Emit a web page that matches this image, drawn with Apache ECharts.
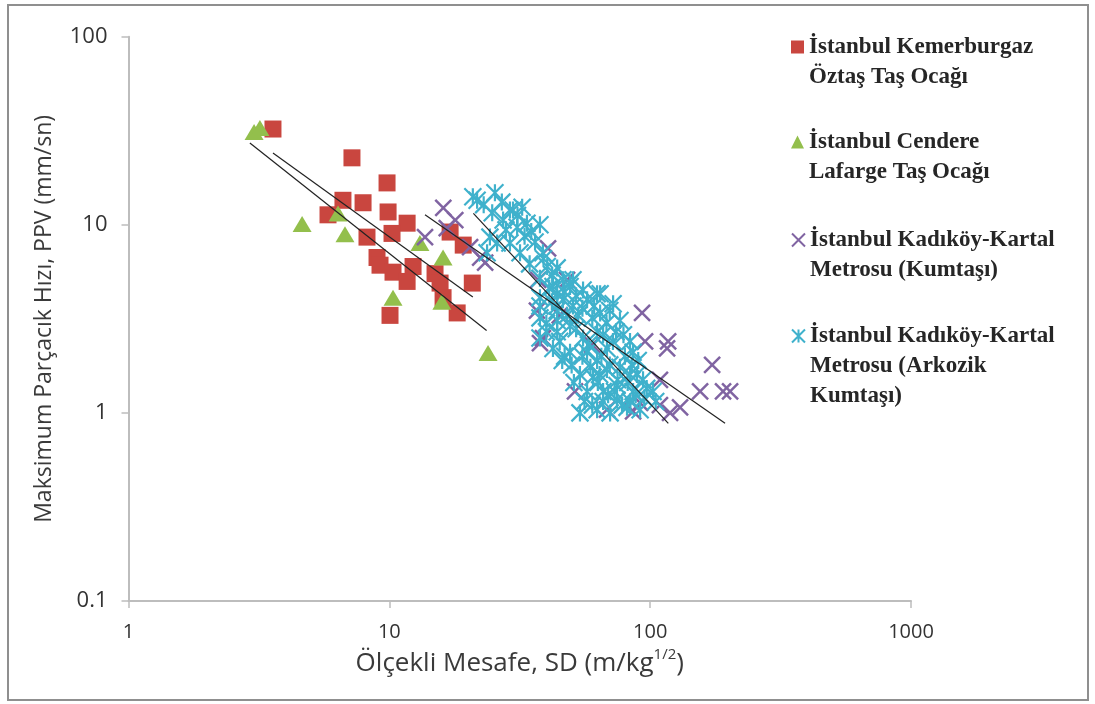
<!DOCTYPE html>
<html>
<head>
<meta charset="utf-8">
<script src="https://cdn.jsdelivr.net/npm/echarts@6/dist/echarts.min.js"></script>
<style>
  html, body { margin: 0; padding: 0; background: #ffffff; }
  #chart { width: 1095px; height: 704px; }
</style>
</head>
<body>
<div id="chart"></div>
<script>
// Scaled distance SD (m/kg^1/2) vs. peak particle velocity PPV (mm/sn), per site
const seriesNames = [
  'İstanbul Kemerburgaz\nÖztaş Taş Ocağı',
  'İstanbul Cendere\nLafarge Taş Ocağı',
  'İstanbul Kadıköy-Kartal\nMetrosu (Kumtaşı)',
  'İstanbul Kadıköy-Kartal\nMetrosu (Arkozik\nKumtaşı)'
];

const xTicks = [1, 10, 100, 1000];
const yTicks = [0.1, 1, 10, 100];

const kemerburgaz = [
  [3.58, 32.3], [7.19, 22.7], [9.8, 16.7], [5.82, 11.3], [6.64, 13.5], [7.93, 13.1],
  [9.89, 11.7], [11.7, 10.2], [8.21, 8.6], [10.24, 9.0], [8.97, 6.7], [9.21, 6.1],
  [10.33, 5.6], [11.7, 5.0], [12.33, 6.0], [14.97, 5.5], [15.65, 4.9], [17.1, 9.15],
  [19.2, 7.8], [20.8, 4.9], [16.07, 4.1], [18.2, 3.4], [10.06, 3.3]
];

const cendere = [
  [3.03, 31.1], [3.19, 32.7], [4.63, 10.1], [6.76, 8.9], [6.36, 11.5],
  [13.1, 8.0], [16.07, 6.7], [10.33, 4.1], [15.9, 3.9], [23.9, 2.08]
];

const kumtasi = [
  [16.1, 12.3], [17.9, 10.6], [13.7, 8.6], [16.6, 9.6], [22.3, 6.7], [23.3, 6.3],
  [20.4, 7.6], [40.6, 7.5], [37.2, 5.1], [93.1, 3.4], [95.6, 2.4], [117.2, 2.4],
  [116.1, 2.2], [172.8, 1.8], [155.4, 1.3], [190.3, 1.3], [202.5, 1.3], [51.5, 1.3],
  [86, 1.02], [119.2, 1.0], [37.8, 2.35], [36.8, 3.5], [48, 5.1], [38.8, 2.5],
  [109, 1.5], [91.5, 1.13], [130.2, 1.07], [109, 1.1], [68.3, 1.04], [45, 3.3], [60, 2.3]
];

const arkozik = [
  [21.7, 13.5], [25.4, 14.8], [24.8, 11.6], [27.3, 10.6], [29.0, 12.0], [32.3, 12.4],
  [33.7, 10.2], [37.8, 10.0], [24.3, 8.6], [25.9, 8.0], [29.0, 8.0], [31.7, 7.1],
  [36.2, 8.1], [23.7, 7.1], [40.3, 6.0], [42.1, 5.4], [37.8, 5.2], [46.3, 5.1],
  [49.3, 4.7], [44.0, 4.3], [55.3, 4.5], [20.9, 14.1], [29.8, 12.0], [30.9, 9.7],
  [38.8, 7.1], [50.6, 5.1], [62.6, 4.3], [37.8, 3.7], [44.0, 3.7], [37.8, 4.1],
  [42.4, 4.7], [49.3, 4.9], [37.8, 3.2], [44.0, 3.5], [50.6, 3.7], [57.3, 4.0],
  [64.3, 4.3], [72.1, 3.8], [64.3, 3.4], [76.6, 3.1], [83.7, 2.4], [37.8, 2.5],
  [44.0, 2.7], [49.3, 2.9], [55.3, 2.5], [62.6, 2.7], [68.3, 2.2], [42.4, 2.2],
  [49.3, 2.1], [57.3, 2.1], [62.6, 1.9], [53.8, 1.6], [60.4, 1.55], [68.3, 1.7],
  [76.6, 1.75], [83.7, 1.6], [57.3, 1.3], [66.0, 1.3], [74.6, 1.4], [86.0, 1.3],
  [93.9, 1.5], [102.6, 1.3], [53.8, 1.0], [62.6, 1.04], [70.2, 1.0], [81.5, 1.07],
  [91.5, 1.04], [74.6, 1.17], [46.3, 4.0], [34.5, 6.2], [40, 3.0], [45, 2.4],
  [48, 3.3], [52, 2.8], [58, 2.3], [65, 2.0], [70, 1.8], [75, 1.5], [60, 3.2],
  [55, 3.6], [80, 2.0], [85, 1.8], [66, 2.6], [72, 2.4], [50, 1.8], [47, 2.0],
  [42, 3.9], [95, 1.2], [105, 1.15], [88, 1.25], [78, 1.1], [56, 1.15], [63, 1.45],
  [23, 12.8], [27, 13.2], [31, 11.2], [35, 9.2], [28, 9.4], [33, 8.7], [39, 6.6],
  [44, 5.9], [41, 4.6], [47, 4.4], [52, 4.2], [53, 3.3], [61, 3.7], [68, 3.0],
  [70, 3.5], [74, 2.7], [79, 2.6], [86, 2.1], [90, 1.9], [44, 3.1], [40, 2.7],
  [51, 1.45], [59, 1.75], [64, 1.6], [69, 1.25], [73, 1.3], [82, 1.45], [89, 1.6],
  [97, 1.35], [60, 1.1], [66, 1.15], [84, 1.15], [46, 1.9], [55, 2.0]
];

// Power-law trend lines, given by their end points
const fitKemerburgaz = [[3.58, 24.1], [20.9, 4.13]];
const fitCendere = [[2.92, 27.2], [23.6, 2.74]];
const fitKumtasi = [[13.7, 11.3], [193.7, 0.88]];
const fitArkozik = [[21.0, 11.5], [117.4, 0.88]];

const colors = ['#c9463f', '#93bf4c', '#8064a2', '#3fb1cc'];
const crossPath = 'path://M0 0L10 10M10 0L0 10';
const starPath = 'path://M0 0L10 10M10 0L0 10M5 0L5 10';

const axisFont = '"Open Sans", "Noto Sans", sans-serif';
const legendFont = '"Liberation Serif", "DejaVu Serif", serif';

const fmt = v => String(+Number(v).toPrecision(6));

function trend(data) {
  return {
    type: 'line',
    data: data,
    symbol: 'none',
    silent: true,
    z: 5,
    lineStyle: { color: '#222222', width: 1.2 },
    animation: false
  };
}

// One legend block per site; the top padding keeps each marker level with the first text line
const legendTops = [2, 97, 195, 261];
const legendPads = [30, 30, 30, 60];
const legends = seriesNames.map((name, i) => ({
  orient: 'vertical',
  left: 791,
  top: legendTops[i],
  padding: 0,
  itemWidth: 13,
  itemHeight: 13,
  selectedMode: false,
  textStyle: {
    fontFamily: legendFont,
    fontSize: 23,
    fontWeight: 'bold',
    color: '#262626',
    lineHeight: 30,
    padding: [legendPads[i], 0, 0, 0],
    rich: { t: {} }
  },
  data: [{ name: name }]
}));

const chart = echarts.init(document.getElementById('chart'), null, { renderer: 'canvas' });

chart.setOption({
  animation: false,
  backgroundColor: '#ffffff',
  grid: { left: 128.5, right: 184, top: 36.7, bottom: 103 },
  xAxis: {
    type: 'log',
    logBase: 10,
    min: xTicks[0],
    max: xTicks[xTicks.length - 1],
    name: '{a|Ölçekli Mesafe, SD (m/kg}{s|1/2}{a|)}',
    nameLocation: 'middle',
    nameGap: 45,
    nameTextStyle: {
      rich: {
        a: { fontFamily: axisFont, fontSize: 26, color: '#3a3a3a', lineHeight: 34 },
        s: { fontFamily: axisFont, fontSize: 15, color: '#3a3a3a', lineHeight: 20, verticalAlign: 'top' }
      }
    },
    axisLine: { show: true, lineStyle: { color: '#bdbdbd', width: 2 } },
    axisTick: { show: true, inside: false, length: 7, lineStyle: { color: '#bdbdbd', width: 1.5 } },
    minorTick: { show: false },
    splitLine: { show: false },
    axisLabel: { fontFamily: axisFont, fontSize: 20, color: '#333333', margin: 21, formatter: fmt }
  },
  yAxis: {
    type: 'log',
    logBase: 10,
    min: yTicks[0],
    max: yTicks[yTicks.length - 1],
    name: 'Maksimum Parçacık Hızı, PPV (mm/sn)',
    nameLocation: 'middle',
    nameGap: 73,
    nameTextStyle: { fontFamily: axisFont, fontSize: 23, color: '#3a3a3a' },
    axisLine: { show: true, lineStyle: { color: '#bdbdbd', width: 2 } },
    axisTick: { show: true, inside: false, length: 7, lineStyle: { color: '#bdbdbd', width: 1.5 } },
    minorTick: { show: false },
    splitLine: { show: false },
    axisLabel: { fontFamily: axisFont, fontSize: 22, color: '#333333', margin: 21, formatter: fmt }
  },
  legend: legends,
  graphic: [{
    type: 'rect',
    shape: { x: 8, y: 5, width: 1080, height: 695 },
    style: { fill: 'none', stroke: '#8f8f8f', lineWidth: 2 },
    silent: true
  }],
  series: [
    {
      name: seriesNames[0], type: 'scatter', data: kemerburgaz,
      symbol: 'rect', symbolSize: 17, z: 2,
      itemStyle: { color: colors[0], opacity: 1 }
    },
    {
      name: seriesNames[1], type: 'scatter', data: cendere,
      symbol: 'triangle', symbolSize: [19, 16], z: 3,
      itemStyle: { color: colors[1], opacity: 1 }
    },
    {
      name: seriesNames[2], type: 'scatter', data: kumtasi,
      symbol: crossPath, symbolSize: 16, z: 3,
      itemStyle: { color: 'rgba(0,0,0,0)', borderColor: colors[2], borderWidth: 2.5, opacity: 1 }
    },
    {
      name: seriesNames[3], type: 'scatter', data: arkozik,
      symbol: starPath, symbolSize: 17, z: 4,
      itemStyle: { color: 'rgba(0,0,0,0)', borderColor: colors[3], borderWidth: 2.2, opacity: 1 }
    },
    trend(fitKemerburgaz),
    trend(fitCendere),
    trend(fitKumtasi),
    trend(fitArkozik)
  ]
});
</script>
</body>
</html>
